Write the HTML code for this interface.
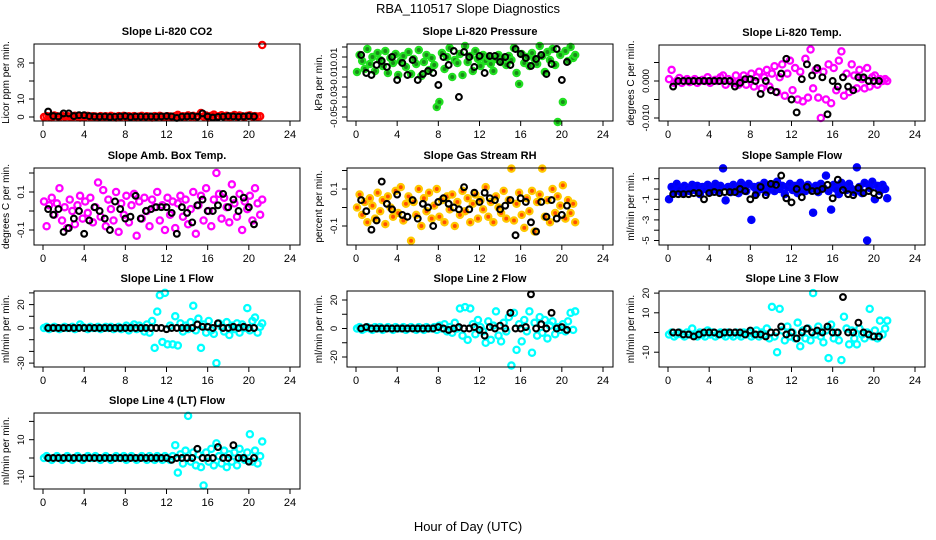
<!DOCTYPE html>
<html><head><meta charset="utf-8"><style>
body{margin:0;background:#fff;}
svg{display:block;font-family:"Liberation Sans",Arial,sans-serif;}
</style></head><body>
<svg id="c" width="936" height="540" viewBox="0 0 936 540">
<text x="468" y="13" text-anchor="middle" font-size="13">RBA_110517  Slope Diagnostics</text>
<text x="468" y="531" text-anchor="middle" font-size="13">Hour of Day (UTC)</text>
</svg>
<script>
const hoursColor=[0.1,0.35,0.6,0.85,1.1,1.35,1.6,1.85,2.1,2.35,2.6,2.85,3.1,3.35,3.6,3.85,4.1,4.35,4.6,4.85,5.1,5.35,5.6,5.85,6.1,6.35,6.6,6.85,7.1,7.35,7.6,7.85,8.1,8.35,8.6,8.85,9.1,9.35,9.6,9.85,10.1,10.35,10.6,10.85,11.1,11.35,11.6,11.85,12.1,12.35,12.6,12.85,13.1,13.35,13.6,13.85,14.1,14.35,14.6,14.85,15.1,15.35,15.6,15.85,16.1,16.35,16.6,16.85,17.1,17.35,17.6,17.85,18.1,18.35,18.6,18.85,19.1,19.35,19.6,19.85,20.1,20.35,20.6,20.85,21.1,21.3];
const hoursBlack=[0.5,1,1.5,2,2.5,3,3.5,4,4.5,5,5.5,6,6.5,7,7.5,8,8.5,9,9.5,10,10.5,11,11.5,12,12.5,13,13.5,14,14.5,15,15.5,16,16.5,17,17.5,18,18.5,19,19.5,20,20.5];
const xTicks=[0,4,8,12,16,20,24];

const co2Color=[0,0.5,0.3,-0.2,0.8,0.4,0,0.6,0.2,0.5,0.3,0,0.7,0.2,-0.3,0.5,0.2,0.6,0,0.4,0.3,-0.2,0.5,0.1,0.4,0,0.6,0.2,-0.3,0.5,0.2,0.6,0,0.4,0.1,0.5,-0.2,0.3,0.6,0,0.4,0.2,-0.3,0.5,0.1,0.6,0.2,0,0.4,0.3,0.1,0.5,1.2,0,0.4,0.3,0.9,0.2,0.6,-0.2,0.5,2.2,0.3,0.8,-0.3,0.6,1.3,0.2,0.4,1.0,0.3,0.7,-0.2,0.5,1.1,0.2,0.8,0.4,0.1,0.6,0.9,0.3,0.5,0.2,0.4,40];
const co2Black=[3,0.5,0.3,2,2,0.5,1,1,0.5,0.3,0.2,0.3,0,0.2,0.3,0.5,0,0.3,0.2,0.2,0.3,0.2,0.3,0.5,0.3,-0.5,0.2,0.3,0.5,0.2,2,0.3,-0.3,0,0.2,0.5,0.3,0.2,0.3,0.5,0.3];
const presColor=[-0.005,0.012,0.006,-0.002,0.018,0.003,0.010,-0.004,0.014,0.007,0.001,0.016,-0.006,0.009,0.004,0.013,-0.008,0.006,0.011,0.000,0.015,-0.007,0.008,0.003,0.017,-0.009,0.005,0.012,-0.003,0.009,0.002,-0.040,-0.035,0.014,-0.002,0.010,0.019,-0.010,0.007,0.004,0.013,-0.008,0.021,0.005,0.011,-0.004,0.016,0.008,0.001,0.012,0.006,0.010,0.003,-0.004,0.008,0.012,0.005,0.009,0.002,0.011,0.007,0.019,-0.006,-0.017,0.013,0.004,0.010,0.001,0.014,0.008,0.003,0.021,0.011,-0.005,0.015,0.007,0.018,0.002,-0.055,0.012,-0.035,0.016,0.006,0.020,0.009,0.012];
const presBlack=[0.012,-0.006,-0.008,0.002,0.006,0.000,0.010,-0.013,0.004,-0.008,0.007,-0.013,-0.007,-0.004,-0.006,-0.018,0.010,0.002,0.016,-0.030,0.015,0.010,0.000,0.011,-0.006,0.011,0.011,0.005,0.010,0.002,0.018,0.013,0.009,0.001,0.008,0.012,-0.007,0.003,0.018,-0.013,0.005];
const tempColor=[0.0005,0.003,-0.0005,0,0.0008,-0.0005,0,0.0005,-0.0003,0,0.0005,-0.0005,0,0.0003,0,0.001,-0.0005,0,0.0003,0,0.001,0.0015,-0.001,0.0005,0,-0.0005,0.0015,-0.001,0,0.0015,-0.001,0.0005,0.002,-0.0015,0.001,0.0025,-0.002,0.001,0.003,-0.0015,0.002,0.004,-0.003,0.001,0.0045,-0.004,0.002,0.0055,-0.0025,0.0035,-0.005,0.0025,-0.0055,0.006,-0.0045,0.0085,-0.002,0.003,-0.0045,-0.01,0.0025,-0.005,0.0045,-0.006,0.0035,-0.0025,0.0055,0.008,-0.004,0.002,-0.003,0.0045,0.0015,-0.002,0.003,0.0005,-0.002,0.0035,-0.0015,0.001,0.0015,-0.001,0.0005,0,0.0005,0];
const tempBlack=[-0.0015,0,0,0,0,0,0,0,0,0,0,0,-0.0015,-0.0005,0.0005,0.0005,0,-0.0035,0,-0.0025,-0.003,0.002,0.006,-0.005,-0.0085,0.0005,0.0045,0.0015,0.0035,0.001,-0.009,0,-0.0015,0.001,-0.0015,-0.0025,0.001,0.001,0,0,0];
const ambColor=[0.05,-0.08,0.03,0.07,-0.02,0.04,0.12,-0.05,0.02,-0.09,0.06,0.00,-0.07,0.03,0.08,-0.04,0.05,-0.01,0.07,-0.06,0.02,0.15,-0.03,0.11,-0.08,0.06,0.01,-0.05,0.10,-0.11,0.04,-0.02,0.08,-0.06,0.03,0.09,-0.13,0.05,-0.04,0.07,0.00,-0.08,0.06,0.02,0.10,-0.05,0.03,-0.10,0.07,-0.02,0.05,-0.09,0.04,0.08,-0.03,0.06,-0.07,0.01,0.10,-0.12,0.03,0.08,-0.05,0.12,0.00,-0.08,0.06,0.20,0.09,-0.04,0.07,0.02,-0.06,0.14,0.04,-0.03,0.09,-0.10,0.05,0.01,0.08,-0.05,0.12,0.04,-0.02,0.06];
const ambBlack=[0.01,-0.02,0.01,-0.11,-0.09,-0.04,0.00,-0.12,-0.05,0.02,0.00,-0.04,-0.10,0.05,0.01,-0.04,-0.03,0.08,-0.04,0.00,0.01,0.02,0.02,0.02,-0.01,-0.12,0.02,-0.01,-0.06,0.03,0.06,0.00,0.00,0.03,0.09,0.02,0.06,0.00,0.07,0.02,-0.07];
const rhColor=[0.00,0.07,-0.04,0.03,-0.08,0.05,0.01,-0.06,0.08,-0.02,0.04,-0.09,0.06,0.00,-0.05,0.09,-0.03,0.11,-0.07,0.02,0.06,-0.18,0.03,-0.04,0.10,-0.10,0.05,-0.02,0.08,-0.06,0.01,0.10,-0.05,0.04,-0.08,0.06,-0.01,0.07,-0.10,0.03,-0.04,0.09,-0.02,0.05,-0.08,0.02,0.07,-0.06,0.04,-0.01,0.11,-0.05,0.03,-0.08,0.06,0.00,-0.03,0.09,-0.06,0.04,0.21,-0.07,0.02,0.08,-0.04,-0.11,0.05,-0.02,0.09,-0.13,0.03,0.07,0.21,-0.05,0.04,-0.08,0.10,-0.03,0.06,0.01,0.12,-0.06,0.04,-0.03,0.02,-0.08];
const rhBlack=[0.04,-0.02,-0.12,-0.07,0.14,0.02,-0.01,0.07,-0.04,-0.05,0.04,-0.06,0.02,0.00,-0.10,0.03,0.05,0.02,0.00,-0.01,0.11,-0.01,0.08,0.03,0.08,0.05,0.04,-0.01,0.01,0.04,-0.15,0.05,0.03,-0.08,-0.13,0.03,-0.05,0.04,-0.06,-0.04,0.01];
const sampleColor=[-1.0,0.2,-0.3,0.5,0.0,-0.4,0.3,0.1,-0.2,0.4,-0.1,0.3,-0.5,0.2,0.0,0.4,-0.3,0.1,0.5,-0.2,0.3,2.0,-1.1,0.2,-0.3,0.4,0.0,-0.4,0.6,0.1,-0.2,0.5,-3.0,0.2,-0.4,0.3,0.0,0.6,-0.3,0.1,0.4,-0.2,0.7,0.0,0.3,-0.5,0.2,0.5,-0.1,0.3,-0.4,0.6,0.1,-0.2,0.4,0.0,-2.3,0.3,-0.3,0.5,0.1,1.3,-0.2,-2.0,0.4,0.0,-0.5,0.6,0.2,-0.1,0.5,0.0,-0.3,2.1,0.2,-0.4,0.6,-5.0,0.1,0.7,-1.0,0.3,-0.2,0.4,0.0,-0.9];
const sampleBlack=[-0.5,-0.5,-0.5,-0.5,-0.4,-0.4,-1.0,-0.4,-0.3,-0.4,-0.3,-0.3,-0.3,0.0,-0.2,-1.0,-0.6,0.2,-0.6,0.5,0.4,1.3,-0.9,-1.3,0.0,-0.8,0.2,-0.2,-0.2,0.0,0.4,-0.9,0.9,-0.1,-0.5,-0.6,0.1,-0.4,-0.2,-0.4,-0.6];
const line1Color=[0,1,-1,0,1,0,-1,0,1,0,0,1,-1,0,3,1,0,-1,1,0,0,1,-1,0,1,0,1,-1,0,1,-1,0,2,-2,1,3,-1,2,0,-3,3,-4,6,-17,14,28,-12,30,-14,2,-14,10,-15,4,-3,2,-1,5,19,-2,8,-17,3,-4,6,-2,-5,-30,4,1,-3,5,-6,2,-1,4,-4,3,0,17,-2,6,9,-4,1,4];
const line1Black=[0,0,0,0,0,0,0,0,0,0,0,0,0,0,0,0,0,0,0,0,0,0,0,-1,0,0,0,0,0,3,1,1,0,4,0,0,1,0,1,0,0];
const line2Color=[0,1,-1,0,1,0,-1,1,0,1,-1,0,1,0,-1,1,0,0,1,-1,0,1,0,-1,1,0,-1,1,0,0,1,-1,2,0,3,-2,1,-3,4,0,14,-5,15,-8,14,3,-4,6,1,-2,-10,5,-8,2,12,-5,-9,4,-2,8,-26,11,-15,3,-9,6,-2,12,-17,4,-5,8,-3,6,-7,2,5,-4,1,-1,3,-2,5,11,-1,12];
const line2Black=[0,1,0,0,0,0,0,0,0,0,0,0,0,0,0,1,0,-1,0,1,0,0,1,-1,-5,1,0,2,0,11,0,0,1,24,0,3,0,11,0,1,-1];
const line3Color=[-1,0,-2,-1,0,-1,-2,0,-1,2,-1,-2,0,-1,-2,1,-1,0,-2,-1,0,-1,-2,0,-1,-2,0,-1,-2,0,-1,0,-2,-1,1,-2,0,-1,2,-3,13,-2,-10,12,1,-4,3,-2,0,-3,5,-7,1,-3,2,-4,20,-1,3,-2,-5,1,-13,4,-3,0,-4,-14,8,2,-6,1,-3,-6,2,-1,-3,0,12,-2,1,-3,6,-1,2,6];
const line3Black=[0,0,-1,-1,-2,-1,0,0,0,-1,0,0,0,0,-1,1,-1,-1,-2,0,0,3,-1,0,-3,0,2,0,1,0,3,0,0,18,0,0,5,0,-1,-2,-2];
const line4Color=[0,1,0,-1,0,1,0,-1,0,1,0,-1,0,1,0,-1,0,1,0,0,1,0,-1,0,1,0,-1,0,1,0,0,1,-1,0,1,0,-1,0,1,0,-1,1,0,-1,1,0,-1,1,0,-1,1,7,-8,2,-3,4,23,-2,3,-4,2,-5,-15,3,-2,5,-4,8,1,-3,4,-5,2,-2,3,-4,5,0,-1,3,13,-2,4,-3,1,9];
const line4Black=[0,0,0,0,0,0,0,0,0,0,0,0,0,0,0,0,0,0,0,0,0,0,0,0,-1,0,0,0,0,5,0,0,0,6,0,0,7,0,0,-2,0];

const NS='http://www.w3.org/2000/svg';
const svg=document.getElementById('c');
function mk(tag,attrs,parent){const e=document.createElementNS(NS,tag);for(const k in attrs)e.setAttribute(k,attrs[k]);(parent||svg).appendChild(e);return e;}

const panels=[
 {id:'co2',title:'Slope Li-820 CO2',ylab:'Licor ppm per min.',col:0,top:44,h:77,y0:117,ppu:1.8,ticks:[0,10,20,30],labels:[[0,'0'],[10,'10'],[30,'30']],color:'#ff0000',fill:'none',c:co2Color,b:co2Black},
 {id:'pressure',title:'Slope Li-820 Pressure',ylab:'kPa per min.',col:1,top:44,h:77,y0:67,ppu:1000,ticks:[-0.05,-0.04,-0.03,-0.02,-0.01,0,0.01,0.02],labels:[[-0.05,'-0.05'],[-0.03,'-0.03'],[-0.01,'-0.01'],[0.01,'0.01']],color:'#22e022',fill:'#1a8a1a',c:presColor,b:presBlack},
 {id:'temp',title:'Slope Li-820 Temp.',ylab:'degrees C per min.',col:2,top:45,h:76,y0:81,ppu:3700,ticks:[-0.01,-0.005,0,0.005],labels:[[-0.01,'-0.010'],[0,'0.000']],color:'#ff00ff',fill:'none',c:tempColor,b:tempBlack},
 {id:'amb-box-temp',title:'Slope Amb. Box Temp.',ylab:'degrees C per min.',col:0,top:168,h:77,y0:211,ppu:190,ticks:[-0.1,0,0.1,0.2],labels:[[-0.1,'-0.1'],[0.1,'0.1']],color:'#ff00ff',fill:'none',c:ambColor,b:ambBlack},
 {id:'gas-rh',title:'Slope Gas Stream RH',ylab:'percent per min.',col:1,top:168,h:77,y0:207.5,ppu:185,ticks:[-0.1,0,0.1,0.2],labels:[[-0.1,'-0.1'],[0.1,'0.1']],color:'#ffc800',fill:'#ff5000',c:rhColor,b:rhBlack},
 {id:'sample-flow',title:'Slope Sample Flow',ylab:'ml/min per min.',col:2,top:168,h:77,y0:189,ppu:10.3,ticks:[-5,-4,-3,-2,-1,0,1],labels:[[-5,'-5'],[-3,'-3'],[-1,'-1'],[1,'1']],color:'#0000ff',fill:'#0000ee',c:sampleColor,b:sampleBlack},
 {id:'line1-flow',title:'Slope Line 1 Flow',ylab:'ml/min per min.',col:0,top:291,h:76,y0:328,ppu:1.17,ticks:[-30,-20,-10,0,10,20,30],labels:[[-30,'-30'],[0,'0'],[20,'20']],color:'#00ffff',fill:'none',c:line1Color,b:line1Black},
 {id:'line2-flow',title:'Slope Line 2 Flow',ylab:'ml/min per min.',col:1,top:291,h:76,y0:328.5,ppu:1.425,ticks:[-20,-10,0,10,20],labels:[[-20,'-20'],[0,'0'],[20,'20']],color:'#00ffff',fill:'none',c:line2Color,b:line2Black},
 {id:'line3-flow',title:'Slope Line 3 Flow',ylab:'ml/min per min.',col:2,top:291,h:76,y0:332.5,ppu:1.97,ticks:[-10,0,10,20],labels:[[-10,'-10'],[10,'10'],[20,'20']],color:'#00ffff',fill:'none',c:line3Color,b:line3Black},
 {id:'line4-flow',title:'Slope Line 4 (LT) Flow',ylab:'ml/min per min.',col:0,top:413,h:76,y0:458,ppu:1.83,ticks:[-10,0,10,20],labels:[[-10,'-10'],[10,'10']],color:'#00ffff',fill:'none',c:line4Color,b:line4Black}
];
const colLeft=[34,347,659], W=266;

panels.forEach(p=>{
  const L=colLeft[p.col], T=p.top, H=p.h;
  const xs=h=>L+9+h*(247/24);
  const ys=v=>p.y0-v*p.ppu;
  const g=mk('g',{});
  
  
  const t=mk('text',{x:L+W/2,y:T-9,'text-anchor':'middle','font-size':11,'font-weight':'bold'},g);
  t.textContent=p.title;
  
  
  const pts=mk('g',{},g);
  
  
  p.c.forEach((v,i)=>{
    const c=mk('circle',{cx:xs(hoursColor[i]),cy:ys(v),r:3.1,fill:p.fill,stroke:p.color,'stroke-width':2.3},pts);
    
    
  });
  const bp=mk('g',{},g);
  
  
  p.b.forEach((v,i)=>{
    const c=mk('circle',{cx:xs(hoursBlack[i]),cy:ys(v),r:2.9,fill:'none',stroke:'#000','stroke-width':2.1},bp);
    
    
  });
  const box=mk('rect',{x:L,y:T,width:W,height:H,fill:'none',stroke:'#000','stroke-width':1},g);
  
  
  const xa=mk('g',{stroke:'#000','stroke-width':1},g);
  
  
  const B=T+H;
  xTicks.forEach(tk=>{
    mk('line',{x1:xs(tk),x2:xs(tk),y1:B,y2:B+5},xa);
    const tx=mk('text',{x:xs(tk),y:B+17,'text-anchor':'middle','font-size':11,stroke:'none',fill:'#000'},xa);
    tx.textContent=tk;
    
    
  });
  const ya=mk('g',{stroke:'#000','stroke-width':1},g);
  
  
  p.ticks.forEach(tk=>{
    const y=ys(tk);
    if(y<T-1||y>B+1)return;
    mk('line',{x1:L-5,x2:L,y1:y,y2:y},ya);
  });
  p.labels.forEach(([v,s])=>{
    const y=ys(v);
    const tx=mk('text',{x:L-10,y:y,'text-anchor':'middle','font-size':9.5,stroke:'none',fill:'#000',transform:`rotate(-90 ${L-10} ${y})`},ya);
    tx.textContent=s;
    
    
  });
  const yt=mk('text',{x:L-25,y:T+H/2,'text-anchor':'middle','font-size':10,transform:`rotate(-90 ${L-25} ${T+H/2})`},g);
  yt.textContent=p.ylab;
  
  
});
</script>
</body></html>
